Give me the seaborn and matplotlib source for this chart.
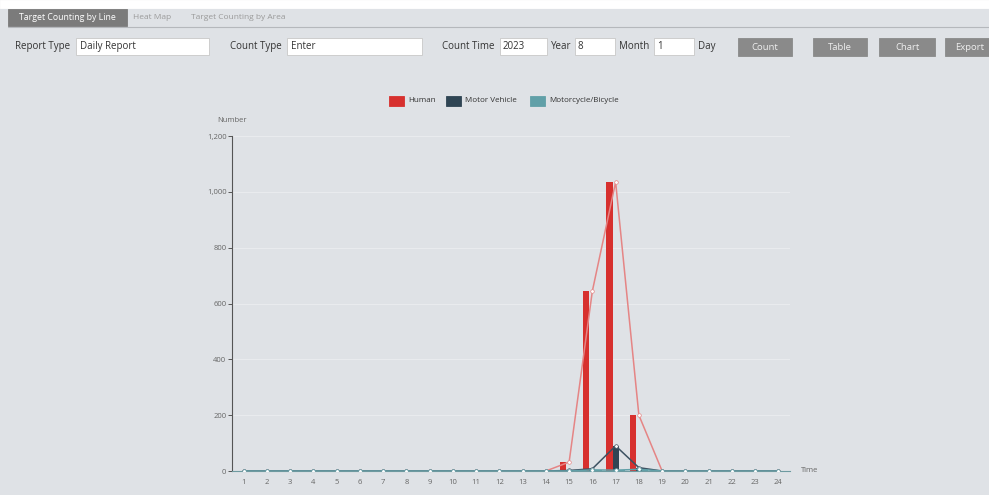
import numpy as np
import pandas as pd
import matplotlib
matplotlib.use('Agg')
import matplotlib.pyplot as plt
from matplotlib.patches import Rectangle
import seaborn as sns

# data
hours = [str(h) for h in range(1, 25)]
human = [0, 0, 0, 0, 0, 0, 0, 0, 0, 0, 0, 0, 0, 0, 32, 645, 1035, 200, 0, 0, 0, 0, 0, 0]
motor_vehicle = [0, 0, 0, 0, 0, 0, 0, 0, 0, 0, 0, 0, 0, 0, 2, 8, 90, 12, 0, 0, 0, 0, 0, 0]
motorcycle = [0, 0, 0, 0, 0, 0, 0, 0, 0, 0, 0, 0, 0, 0, 0, 4, 3, 6, 0, 0, 0, 0, 0, 0]
series_names = ['Human', 'Motor Vehicle', 'Motorcycle/Bicycle']
y_ticks = [0, 200, 400, 600, 800, 1000, 1200]

bar_colors = ['#d7302e', '#2f4554', '#61a0a8']
line_colors = ['#e58585', '#3d5262', '#61a0a8']
bg = '#dfe2e6'

sns.set_theme(style='white')
plt.rcParams['font.family'] = ['Open Sans', 'DejaVu Sans']

fig = plt.figure(figsize=(9.89, 4.95), dpi=100)
fig.patch.set_facecolor(bg)
W, H = 989, 495

def px(x, y, w, h):
    # pixel box (top-left origin) -> figure fraction rectangle
    return (x / W, 1 - (y + h) / H), w / W, h / H

def box(x, y, w, h, fc, ec=None, lw=0.6):
    xy, ww, hh = px(x, y, w, h)
    fig.patches.append(Rectangle(xy, ww, hh, transform=fig.transFigure,
                                 facecolor=fc, edgecolor=ec if ec else fc, linewidth=lw))

def label(x, y, s, color='#333333', size=7, ha='left', weight='normal'):
    fig.text(x / W, 1 - y / H, s, color=color, fontsize=size, ha=ha, va='center', weight=weight)

# top strip + tabs
box(0, 0, 989, 8, 'white')
box(8, 9, 119, 17, '#7b7b7b')
label(67, 17.5, 'Target Counting by Line', color='white', size=6.3, ha='center')
label(133, 17.5, 'Heat Map', color='#9a9a9a', size=6)
label(191, 17.5, 'Target Counting by Area', color='#9a9a9a', size=6)
fig.add_artist(plt.Line2D([8 / W, 1], [1 - 27 / H, 1 - 27 / H], transform=fig.transFigure,
                          color='#b5b8bc', lw=0.8))

# form row
row_y = 46.5
label(15, row_y, 'Report Type')
box(76, 38, 133, 17, 'white', '#c8c8c8')
label(80, row_y, 'Daily Report')
label(230, row_y, 'Count Type')
box(287, 38, 135, 17, 'white', '#c8c8c8')
label(291, row_y, 'Enter')
label(442, row_y, 'Count Time')
box(500, 38, 47, 17, 'white', '#c8c8c8')
label(503, row_y, '2023')
label(551, row_y, 'Year')
box(575, 38, 40, 17, 'white', '#c8c8c8')
label(578, row_y, '8')
label(619, row_y, 'Month')
box(654, 38, 40, 17, 'white', '#c8c8c8')
label(657, row_y, '1')
label(698, row_y, 'Day')
for x0, w0, s in [(738, 54, 'Count'), (813, 54, 'Table'), (879, 56, 'Chart'), (945, 50, 'Export')]:
    box(x0, 38, w0, 18, '#8a8a8a')
    label(x0 + w0 / 2, row_y + 0.5, s, color='#eeeeee', size=6.8, ha='center')

# legend
for x0, c, s in [(389, bar_colors[0], 'Human'), (446, bar_colors[1], 'Motor Vehicle'),
                 (530, bar_colors[2], 'Motorcycle/Bicycle')]:
    box(x0, 96, 15, 10, c)
    label(x0 + 19, 101, s, color='#333333', size=5.8)

# chart
ax = fig.add_axes([232 / W, 1 - 471 / H, 558 / W, 335 / H])
ax.set_facecolor(bg)

df = pd.DataFrame({
    'Time': hours * 3,
    'Number': human + motor_vehicle + motorcycle,
    'Series': sum([[n] * len(hours) for n in series_names], []),
})
sns.barplot(data=df, x='Time', y='Number', hue='Series', palette=bar_colors,
            width=0.8, saturation=1, linewidth=0, legend=False, ax=ax, zorder=3)

pos = np.arange(len(hours))
for vals, c in zip([human, motor_vehicle, motorcycle], line_colors):
    sns.lineplot(x=pos, y=vals, color=c, lw=1.1, marker='o', markersize=2.6,
                 markerfacecolor='white', markeredgecolor=c, markeredgewidth=0.5,
                 ax=ax, zorder=4, legend=False)

ax.set_xlim(-0.5, len(hours) - 0.5)
ax.set_ylim(0, 1200)
ax.set_yticks(y_ticks)
ax.set_yticklabels([f'{v:,}' for v in y_ticks])
ax.yaxis.grid(True, color='#e9ebee', lw=0.8)
ax.set_axisbelow(True)
ax.set_xticks(pos)
ax.set_xticklabels(hours)
ax.set_xticks(np.arange(-0.5, len(hours)), minor=True)
ax.tick_params(axis='x', which='major', length=0, labelsize=5.5, labelcolor='#666666', pad=6)
ax.tick_params(axis='x', which='minor', length=3, width=0.7, color='#777777', direction='inout')
ax.tick_params(axis='y', length=3, width=0.7, color='#555555', labelsize=5.5,
               labelcolor='#666666', pad=1, left=True)
for s in ['top', 'right']:
    ax.spines[s].set_visible(False)
ax.spines['left'].set_color('#555555')
ax.spines['left'].set_linewidth(0.8)
ax.spines['bottom'].set_color('#6e9aa0')
ax.spines['bottom'].set_linewidth(0.8)
ax.set_xlabel('')
ax.set_ylabel('')

label(232, 120, 'Number', color='#666666', size=5.5, ha='center')
label(801, 471, 'Time', color='#666666', size=5.5)

fig.savefig('out.png', dpi=100, facecolor=fig.get_facecolor())
